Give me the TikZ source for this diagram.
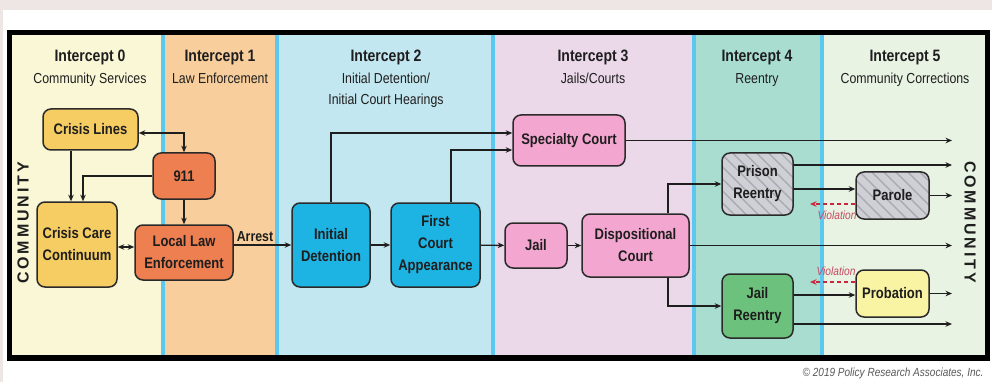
\documentclass[tikz,border=0pt]{standalone}
\usepackage{fontspec}
\setmainfont[FakeStretch=0.85]{Liberation Sans}
\newfontfamily\commfont[LetterSpace=18]{Liberation Sans}
\usetikzlibrary{arrows.meta,patterns.meta}

% column backgrounds
\definecolor{pagegray}{HTML}{EEE6E4}
\definecolor{colzero}{HTML}{FAF7D7}
\definecolor{colone}{HTML}{F8CF9C}
\definecolor{coltwo}{HTML}{C3E7F0}
\definecolor{colthree}{HTML}{EBD9EA}
\definecolor{colfour}{HTML}{A9DDD0}
\definecolor{colfive}{HTML}{E9F3E3}
\definecolor{divblue}{HTML}{5CC7EF}
% box fills
\definecolor{crisisfill}{HTML}{F6CD63}
\definecolor{policefill}{HTML}{EE7F50}
\definecolor{detainfill}{HTML}{1DB4E3}
\definecolor{courtfill}{HTML}{F3A7D0}
\definecolor{prisonfill}{HTML}{CFCFD6}
\definecolor{hatchgray}{HTML}{AAAAB2}
\definecolor{jailrefill}{HTML}{6CC27C}
\definecolor{probfill}{HTML}{F9F4A4}
\definecolor{edgedark}{HTML}{2A2A2A}
\definecolor{violred}{HTML}{C8283C}
\definecolor{violtext}{HTML}{C24A62}
\definecolor{inkdark}{HTML}{1E1E1E}

\newcommand\headfont{\fontsize{16.5}{20}\selectfont\bfseries}
\newcommand\subheadfont{\fontsize{14.5}{20}\selectfont}
\newcommand\boxtextfont{\fontsize{15.3}{22}\selectfont\bfseries}

\begin{document}
\begin{tikzpicture}[x=1pt,y=-1pt,
  box/.style={draw=edgedark, line width=1.5pt, rounded corners=8pt,
    align=center, font=\boxtextfont, text=inkdark, inner sep=0pt},
  hatched/.style={box, preaction={fill=prisonfill},
    pattern={Lines[angle=-45,distance=8.5pt,line width=1.4pt]},
    pattern color=hatchgray},
  arr/.style={-{Stealth[length=6.5pt,width=5.5pt]}, line width=1.4pt, draw=inkdark},
  twoway/.style={{Stealth[length=6.5pt,width=5.5pt]}-{Stealth[length=6.5pt,width=5.5pt]},
    line width=1.4pt, draw=inkdark},
  viol/.style={-{Stealth[length=6.5pt,width=5.5pt]}, line width=1.3pt,
    draw=violred, dash pattern=on 4pt off 3pt},
  head/.style={anchor=base, font=\headfont, text=inkdark},
  subhead/.style={anchor=base, font=\subheadfont, text=inkdark},
  violabel/.style={font=\fontsize{12}{14}\selectfont\itshape, text=violtext},
  community/.style={font=\fontsize{16}{18}\selectfont\bfseries\commfont, text=inkdark}
]
\useasboundingbox (0,0) rectangle (992,382);

% page and frame
\fill[pagegray] (0,0) rectangle (992,382);
\fill[white] (3,10) rectangle (992,382);
\fill[black] (7,30) rectangle (990,361);

% intercept columns
\fill[colzero]  (12,35)  rectangle (163,355);
\fill[colone]   (163,35) rectangle (277,355);
\fill[coltwo]   (277,35) rectangle (493,355);
\fill[colthree] (493,35) rectangle (694,355);
\fill[colfour]  (694,35) rectangle (822,355);
\fill[colfive]  (822,35) rectangle (985,355);
\foreach \xd in {163,277,493,694,822}
  \fill[divblue] (\xd-2.3,35) rectangle (\xd+2.3,355);

% column headings
\node[head] (h0) at (90,62) {Intercept 0};
\node[subhead] (s0) at (90,84) {Community Services};
\node[head] (h1) at (220,62) {Intercept 1};
\node[subhead] (s1) at (220,84) {Law Enforcement};
\node[head] (h2) at (386,62) {Intercept 2};
\node[subhead] (s2a) at (386,84) {Initial Detention/};
\node[subhead] (s2b) at (386,105) {Initial Court Hearings};
\node[head] (h3) at (593,62) {Intercept 3};
\node[subhead] (s3) at (593,84) {Jails/Courts};
\node[head] (h4) at (757,62) {Intercept 4};
\node[subhead] (s4) at (757,84) {Reentry};
\node[head] (h5) at (905,62) {Intercept 5};
\node[subhead] (s5) at (905,84) {Community Corrections};

% side labels
\node[community, rotate=90] (commL) at (23,223) {COMMUNITY};
\node[community, rotate=-90] (commR) at (970,222) {COMMUNITY};

% boxes
\node[box, fill=crisisfill, minimum width=95pt, minimum height=41pt] (cl) at (90.5,129.5) {Crisis Lines};
\node[box, fill=policefill, minimum width=62pt, minimum height=46pt] (n911) at (184,176) {911};
\node[box, fill=crisisfill, minimum width=80pt, minimum height=85pt] (ccc) at (77,244.5) {Crisis Care\\Continuum};
\node[box, fill=policefill, minimum width=98pt, minimum height=55pt] (lle) at (184,252.5) {Local Law\\Enforcement};
\node[box, fill=detainfill, minimum width=78pt, minimum height=84pt] (idet) at (331,245) {Initial\\Detention};
\node[box, fill=detainfill, minimum width=89pt, minimum height=84pt] (fca) at (435.5,245) {First\\Court\\Appearance};
\node[box, fill=courtfill, minimum width=112pt, minimum height=51pt] (spc) at (569,140.5) {Specialty Court};
\node[box, fill=courtfill, minimum width=62pt, minimum height=45pt] (jail) at (536,245.5) {Jail};
\node[box, fill=courtfill, minimum width=107pt, minimum height=63pt] (disp) at (635.5,245.5) {Dispositional\\Court};
\node[hatched, minimum width=71pt, minimum height=62pt] (pr) at (757.5,184) {Prison\\Reentry};
\node[hatched, minimum width=73pt, minimum height=47pt] (parole) at (892.5,195.5) {Parole};
\node[box, fill=jailrefill, minimum width=71pt, minimum height=64pt] (jr) at (757.5,306) {Jail\\Reentry};
\node[box, fill=probfill, minimum width=73pt, minimum height=47pt] (prob) at (892.5,293.5) {Probation};

% arrow ends at the community edge and violation return points
\coordinate (rim) at (952,0);
\coordinate (vret) at (810,0);

% intercepts 0 and 1
\draw[twoway] ([yshift=-3.5pt]cl.east) -| (n911.north);
\draw[arr] ([xshift=-19.5pt]cl.south) -- ([xshift=-19.5pt]cl.south |- ccc.north);
\draw[arr] (n911.west) -| ([xshift=6pt]ccc.north);
\draw[arr] (n911) -- (lle);
\draw[twoway] ([yshift=-2.5pt]ccc.east) -- ([yshift=-2.5pt]ccc.east -| lle.west);
\draw[arr] (idet.west -| lle.east) -- (idet.west);
\node[anchor=base, font=\fontsize{14.5}{16}\selectfont\bfseries, text=inkdark] (arrest) at (255,241.5) {Arrest};

% intercept 2
\draw[arr] (idet) -- (fca);
\draw[arr] (idet.north) |- ([yshift=7.5pt]spc.west);
\draw[arr] ([xshift=15.5pt]fca.north) |- ([yshift=-9.5pt]spc.west);
\draw[arr] (fca) -- (jail);

% intercept 3
\draw[arr] (jail) -- (disp);
\draw[arr] (spc.east) -- (spc.east -| rim);
\draw[arr] ([xshift=32.5pt]disp.north) |- (pr.west);
\draw[arr] (disp.east) -- (disp.east -| rim);
\draw[arr] ([xshift=32.5pt]disp.south) |- (jr.west);

% intercepts 4 and 5
\draw[arr] ([yshift=19pt]pr.east) -- ([yshift=19pt]pr.east -| rim);
\draw[arr] ([yshift=-5pt]pr.east) -- ([yshift=-5pt]pr.east -| parole.west);
\draw[arr] (parole.east) -- (parole.east -| rim);
\draw[viol] ([yshift=-8.5pt]parole.west) -- ([yshift=-8.5pt]parole.west -| vret);
\node[violabel] (viol1) at (837,215) {Violation};

\draw[arr] ([yshift=11pt]jr.east) -- ([yshift=11pt]jr.east -| prob.west);
\draw[arr] ([yshift=-18pt]jr.east) -- ([yshift=-18pt]jr.east -| rim);
\draw[arr] (prob.east) -- (prob.east -| rim);
\draw[viol] ([yshift=11.5pt]prob.west) -- ([yshift=11.5pt]prob.west -| vret);
\node[violabel] (viol2) at (836,271) {Violation};

% credit line
\node[anchor=base east, font=\fontsize{11.8}{14}\selectfont\itshape, text=black!65] (credit) at (987,376) {© 2019 Policy Research Associates, Inc.};
\end{tikzpicture}
\end{document}
